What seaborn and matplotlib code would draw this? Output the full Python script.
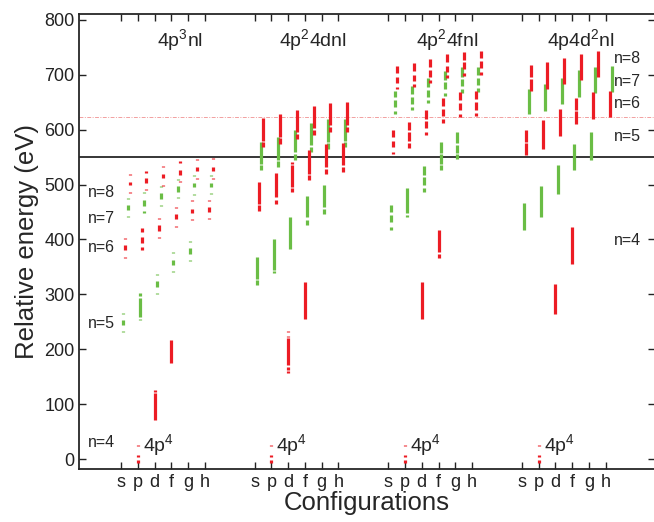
import numpy as np
import pandas as pd
import matplotlib
matplotlib.use("Agg")
import matplotlib.pyplot as plt
import seaborn as sns

# configuration groups and orbital columns
orbitals = ["s", "p", "d", "f", "g", "h"]
group_titles = [r"4p$^3$nl", r"4p$^2$4dnl", r"4p$^2$4fnl", r"4p4d$^2$nl"]

# energy-level bands: (orbital, n, low eV, high eV)
levels_4p3 = [
    ("s", 5, 231, 233), ("s", 5, 245, 253), ("s", 5, 265, 267),
    ("s", 6, 367, 369), ("s", 6, 380, 390), ("s", 6, 401, 403),
    ("s", 7, 440, 442), ("s", 7, 453, 462), ("s", 7, 473, 475),
    ("s", 8, 484, 486), ("s", 8, 499, 505), ("s", 8, 518, 520),
    ("p", 5, 253, 256), ("p", 5, 259, 293), ("p", 5, 298, 302),
    ("p", 6, 380, 386), ("p", 6, 393, 404), ("p", 6, 413, 421),
    ("p", 7, 449, 451), ("p", 7, 461, 471), ("p", 7, 484, 486),
    ("p", 8, 490, 492), ("p", 8, 502, 511), ("p", 8, 521, 525),
    ("d", 4, 72, 120), ("d", 4, 122, 127),
    ("d", 5, 300, 302), ("d", 5, 313, 324), ("d", 5, 336, 338),
    ("d", 6, 402, 405), ("d", 6, 415, 426), ("d", 6, 437, 439),
    ("d", 7, 461, 463), ("d", 7, 474, 485), ("d", 7, 495, 497),
    ("d", 8, 498, 500), ("d", 8, 511, 520), ("d", 8, 532, 534),
    ("f", 4, 176, 218),
    ("f", 5, 340, 342), ("f", 5, 353, 362), ("f", 5, 375, 377),
    ("f", 6, 423, 425), ("f", 6, 438, 446), ("f", 6, 458, 460),
    ("f", 7, 475, 477), ("f", 7, 486, 497), ("f", 7, 508, 510),
    ("f", 8, 505, 507), ("f", 8, 518, 527), ("f", 8, 540, 542),
    ("g", 5, 360, 362), ("g", 5, 374, 384), ("g", 5, 395, 397),
    ("g", 6, 435, 437), ("g", 6, 448, 456), ("g", 6, 470, 472),
    ("g", 7, 481, 483), ("g", 7, 495, 503), ("g", 7, 516, 518),
    ("g", 8, 510, 512), ("g", 8, 524, 532), ("g", 8, 544, 546),
    ("h", 6, 437, 439), ("h", 6, 450, 459), ("h", 6, 470, 472),
    ("h", 7, 483, 485), ("h", 7, 495, 503), ("h", 7, 516, 518),
    ("h", 8, 510, 512), ("h", 8, 524, 532), ("h", 8, 546, 548),
]

levels_4p24d = [
    ("s", 5, 317, 326), ("s", 5, 329, 368),
    ("s", 6, 452, 462), ("s", 6, 465, 505),
    ("s", 7, 526, 535), ("s", 7, 538, 577),
    ("s", 8, 568, 577), ("s", 8, 580, 621),
    ("p", 5, 339, 342), ("p", 5, 345, 400),
    ("p", 6, 464, 472), ("p", 6, 477, 521),
    ("p", 7, 532, 542), ("p", 7, 544, 586),
    ("p", 8, 574, 584), ("p", 8, 587, 628),
    ("d", 4, 157, 160), ("d", 4, 163, 168), ("d", 4, 172, 220),
    ("d", 4, 223, 225), ("d", 4, 231, 233),
    ("d", 5, 383, 441),
    ("d", 6, 486, 493), ("d", 6, 496, 535), ("d", 6, 538, 541),
    ("d", 7, 545, 556), ("d", 7, 559, 600),
    ("d", 8, 582, 592), ("d", 8, 595, 635),
    ("f", 4, 256, 322),
    ("f", 5, 426, 436), ("f", 5, 440, 479),
    ("f", 6, 509, 517), ("f", 6, 520, 562),
    ("f", 7, 559, 568), ("f", 7, 571, 612),
    ("f", 8, 590, 599), ("f", 8, 602, 643),
    ("g", 5, 446, 456), ("g", 5, 460, 500),
    ("g", 6, 520, 529), ("g", 6, 532, 573),
    ("g", 7, 565, 575), ("g", 7, 578, 619),
    ("g", 8, 596, 605), ("g", 8, 608, 648),
    ("h", 6, 523, 532), ("h", 6, 535, 576),
    ("h", 7, 568, 577), ("h", 7, 580, 620),
    ("h", 8, 596, 605), ("h", 8, 608, 650),
]

levels_4p24f = [
    ("s", 5, 418, 423), ("s", 5, 432, 444), ("s", 5, 450, 462),
    ("s", 6, 555, 560), ("s", 6, 568, 580), ("s", 6, 586, 600),
    ("s", 7, 629, 633), ("s", 7, 641, 653), ("s", 7, 659, 671),
    ("s", 8, 673, 677), ("s", 8, 684, 696), ("s", 8, 702, 716),
    ("p", 5, 441, 445), ("p", 5, 449, 494),
    ("p", 6, 567, 575), ("p", 6, 580, 596), ("p", 6, 599, 614),
    ("p", 7, 635, 641), ("p", 7, 647, 660), ("p", 7, 665, 680),
    ("p", 8, 677, 682), ("p", 8, 689, 700), ("p", 8, 707, 721),
    ("d", 4, 256, 322),
    ("d", 5, 486, 494), ("d", 5, 499, 514), ("d", 5, 517, 533),
    ("d", 6, 590, 596), ("d", 6, 602, 616), ("d", 6, 620, 635),
    ("d", 7, 648, 653), ("d", 7, 659, 672), ("d", 7, 677, 693),
    ("d", 8, 684, 690), ("d", 8, 696, 708), ("d", 8, 714, 729),
    ("f", 4, 366, 374), ("f", 4, 377, 418),
    ("f", 5, 526, 535), ("f", 5, 538, 555), ("f", 5, 557, 577),
    ("f", 6, 612, 619), ("f", 6, 625, 638), ("f", 6, 643, 658),
    ("f", 7, 661, 667), ("f", 7, 673, 686), ("f", 7, 691, 706),
    ("f", 8, 693, 699), ("f", 8, 705, 716), ("f", 8, 722, 737),
    ("g", 5, 547, 555), ("g", 5, 558, 572), ("g", 5, 575, 595),
    ("g", 6, 622, 629), ("g", 6, 635, 649), ("g", 6, 653, 668),
    ("g", 7, 666, 673), ("g", 7, 679, 692), ("g", 7, 696, 713),
    ("g", 8, 697, 703), ("g", 8, 710, 722), ("g", 8, 727, 741),
    ("h", 6, 624, 630), ("h", 6, 636, 650), ("h", 6, 655, 670),
    ("h", 7, 669, 675), ("h", 7, 681, 694), ("h", 7, 700, 714),
    ("h", 8, 699, 705), ("h", 8, 712, 724), ("h", 8, 730, 742),
]

levels_4p4d2 = [
    ("s", 5, 417, 466),
    ("s", 6, 553, 575), ("s", 6, 578, 600),
    ("s", 7, 628, 673),
    ("s", 8, 671, 692), ("s", 8, 695, 717),
    ("p", 5, 440, 497),
    ("p", 6, 565, 617),
    ("p", 7, 634, 682),
    ("p", 8, 674, 722),
    ("d", 4, 264, 319),
    ("d", 5, 483, 536),
    ("d", 6, 588, 637),
    ("d", 7, 647, 694),
    ("d", 8, 683, 731),
    ("f", 4, 356, 422),
    ("f", 5, 526, 574),
    ("f", 6, 610, 633), ("f", 6, 636, 658),
    ("f", 7, 659, 708),
    ("f", 8, 691, 738),
    ("g", 5, 545, 596),
    ("g", 6, 620, 668),
    ("g", 7, 666, 714),
    ("g", 8, 695, 742),
    ("h", 6, 623, 671),
    ("h", 7, 668, 715),
]

# 4p^4 ground term, repeated in the p column of every group
ground_4p4 = [(-6, -1), (5, 8), (24, 26)]

ion_limit = 550
ion_limit_excited = 622

n_labels = ["n=4", "n=5", "n=6", "n=7", "n=8"]
n_label_left = [30, 248, 386, 438, 486]
n_label_right = [399, 588, 648, 688, 729]

red = "#ec1c24"
green = "#6abd45"

# ---- long-form table: one vertical segment per band ----
rows = []
seg = 0
all_groups = [levels_4p3, levels_4p24d, levels_4p24f, levels_4p4d2]
for g, levels in enumerate(all_groups):
    bands = levels + [("p", 4, lo, hi) for lo, hi in ground_4p4]
    for orb, n, lo, hi in bands:
        x = 8 * g + orbitals.index(orb) + 1 + 0.13 * (n - 4)
        parity = "even" if n % 2 == 0 else "odd"
        rows.append((seg, x, lo, parity))
        rows.append((seg, x, hi, parity))
        seg += 1
df = pd.DataFrame(rows, columns=["seg", "x", "energy", "set"])

sns.set_style("ticks")
plt.rcParams["font.family"] = ["Liberation Sans", "DejaVu Sans"]
plt.rcParams["mathtext.fontset"] = "custom"
plt.rcParams["mathtext.rm"] = "Liberation Sans"

fig = plt.figure(figsize=(6.54, 5.22), dpi=100)
ax = fig.add_axes([0.1213, 0.101, 0.880, 0.872])

sns.lineplot(data=df, x="x", y="energy", units="seg", estimator=None,
             hue="set", palette={"even": red, "odd": green}, sort=False,
             legend=False, lw=2.3, solid_capstyle="butt", ax=ax)

ax.axhline(ion_limit, color="black", lw=1.1, zorder=0)
ax.axhline(ion_limit_excited, color="#f2a0a0", lw=0.7,
           ls=(0, (4, 1.5, 1, 1.5)), zorder=0)

# text annotations
for g, title in enumerate(group_titles):
    ax.text(8 * g + 4.5, 762, title, ha="center", va="center", fontsize=14)
    ax.text(8 * g + 2.3, 14, r"4p$^4$", ha="left", va="baseline", fontsize=14)
for lab, yl, yr in zip(n_labels, n_label_left, n_label_right):
    ax.text(-1.0, yl, lab, ha="left", va="center", fontsize=11.5)
    ax.text(30.5, yr, lab, ha="left", va="center", fontsize=11.5)

ax.set_xlim(-1.5, 32.95)
ax.set_ylim(-18, 810)
ax.set_xticks([8 * g + i + 1 for g in range(4) for i in range(6)])
ax.set_xticklabels(orbitals * 4)
ax.set_yticks(range(0, 801, 100))
ax.tick_params(direction="in", top=True, right=True, length=5, width=1,
               labelsize=13, colors="#222222")
for sp in ax.spines.values():
    sp.set_linewidth(1.3)

ax.set_xlabel("Configurations", fontsize=18.5, labelpad=0)
ax.set_ylabel("Relative energy (eV)", fontsize=18.5, labelpad=4)

fig.savefig("out.png", dpi=100)
